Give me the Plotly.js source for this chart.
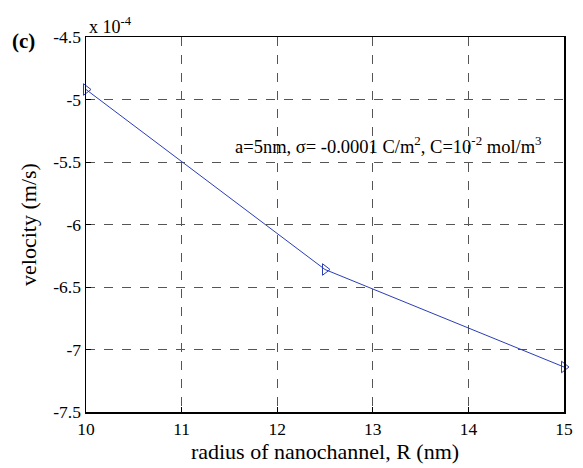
<!DOCTYPE html>
<html><head><meta charset="utf-8">
<script src="https://cdn.plot.ly/plotly-3.0.1.min.js"></script>
<style>body{margin:0;background:#fff}#plot{width:583px;height:468px}</style>
</head><body><div id="plot"></div>
<script>
const radius = [10, 12.5, 15];
const velocity = [-4.92, -6.36, -7.14]; // units of 1e-4 m/s
const xTicks = [10, 11, 12, 13, 14, 15];
const yTicks = [-7.5, -7, -6.5, -6, -5.5, -5, -4.5];
const yTickText = ['-7.5', '-7', '-6.5', '-6', '-5.5', '-5', '-4.5'];

const font = 'Liberation Serif, Times New Roman, serif';
const trace = {
  x: radius, y: velocity, type: 'scatter', mode: 'lines+markers',
  line: {color: '#2a3db5', width: 1},
  marker: {symbol: 'triangle-right-open', size: 10, color: '#2a3db5', line: {width: 1}},
  cliponaxis: false, showlegend: false
};
const axisCommon = {
  showline: true, mirror: true, linecolor: '#000', linewidth: 1.5,
  showgrid: true, gridcolor: '#555', griddash: 'dash', gridwidth: 1,
  ticks: 'inside', ticklen: 5, tickcolor: '#000', zeroline: false,
  tickfont: {family: font, size: 17.5, color: '#000'}
};
const layout = {
  width: 583, height: 468,
  margin: {l: 86, r: 19, t: 37, b: 56},
  paper_bgcolor: '#fff', plot_bgcolor: '#fff',
  xaxis: Object.assign({}, axisCommon, {
    range: [10, 15], tickvals: xTicks,
    title: {text: 'radius of nanochannel, R (nm)', font: {family: font, size: 22, color: '#000'}, standoff: 6}
  }),
  yaxis: Object.assign({}, axisCommon, {
    range: [-7.5, -4.5], tickvals: yTicks, ticktext: yTickText,
    title: {text: 'velocity (m/s)', font: {family: font, size: 22, color: '#000'}, standoff: 10}
  }),
  annotations: [
    {xref: 'paper', yref: 'paper', x: 0.003, y: 0.995, xanchor: 'left', yanchor: 'bottom',
     text: 'x 10<sup>-4</sup>', showarrow: false, font: {family: font, size: 18, color: '#000'}},
    {xref: 'paper', yref: 'paper', x: -0.158, y: 0.99, xanchor: 'left', yanchor: 'middle',
     text: '<b>(c)</b>', showarrow: false, font: {family: font, size: 21, color: '#000'}},
    {xref: 'paper', yref: 'paper', x: 0.308, y: 0.712, xanchor: 'left', yanchor: 'middle',
     text: 'a=5nm, σ= -0.0001 C/m<sup>2</sup>, C=10<sup>-2</sup> mol/m<sup>3</sup>', showarrow: false,
     font: {family: font, size: 18.5, color: '#000'}}
  ]
};
Plotly.newPlot('plot', [trace], layout, {displayModeBar: false, staticPlot: true});
</script></body></html>
